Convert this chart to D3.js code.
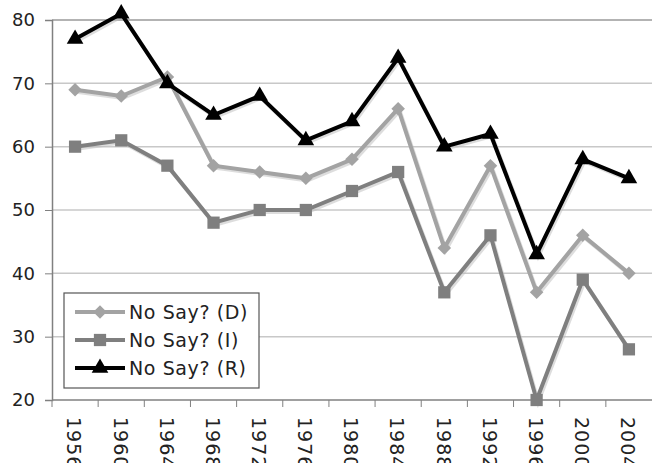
<!DOCTYPE html>
<html>
<head>
<meta charset="utf-8">
<script src="https://cdn.jsdelivr.net/npm/d3@7"></script>
<style>
  body { margin: 0; background: #fff; }
  svg text { font-family: "DejaVu Sans", Verdana, sans-serif; fill: #222; }
</style>
</head>
<body>
<svg id="chart" width="652" height="463"></svg>
<script>
// data
const years = ["1956","1960","1964","1968","1972","1976","1980","1984","1988","1992","1996","2000","2004"];
const noSayD = [69, 68, 71, 57, 56, 55, 58, 66, 44, 57, 37, 46, 40];
const noSayI = [60, 61, 57, 48, 50, 50, 53, 56, 37, 46, 20, 39, 28];
const noSayR = [77, 81, 70, 65, 68, 61, 64, 74, 60, 62, 43, 58, 55];
const yTicks = [20, 30, 40, 50, 60, 70, 80];

// excel-ish diamond (square turned 45 degrees)
const symbolDiamondWide = {
  draw(ctx, size) {
    const r = Math.sqrt(size / 2);
    ctx.moveTo(0, -r);
    ctx.lineTo(r, 0);
    ctx.lineTo(0, r);
    ctx.lineTo(-r, 0);
    ctx.closePath();
  }
};

const series = [
  { name: "No Say? (D)", values: noSayD, color: "#a3a3a3", marker: "diamond" },
  { name: "No Say? (I)", values: noSayI, color: "#7f7f7f", marker: "square" },
  { name: "No Say? (R)", values: noSayR, color: "#000000", marker: "triangle" }
];

const svg = d3.select("#chart");
const margin = {top: 20, right: 0, bottom: 63, left: 52},
    width = 652 - margin.left - margin.right,
    height = 463 - margin.top - margin.bottom;

const g = svg.append("g").attr("transform", `translate(${margin.left},${margin.top})`);

const x = d3.scaleBand().domain(years).range([0, width]);
const y = d3.scaleLinear().domain([20, 80]).range([height, 0]);

// gridlines
g.append("g")
  .selectAll("line")
  .data(yTicks.filter(t => t > 20))
  .join("line")
  .attr("x1", 0).attr("x2", width)
  .attr("y1", d => y(d)).attr("y2", d => y(d))
  .attr("stroke", d => d === 80 ? "#9a9a9a" : "#c8c8c8")
  .attr("stroke-width", 1.5);

// y axis
const yAxis = g.append("g")
  .call(d3.axisLeft(y).tickValues(yTicks).tickSize(7).tickPadding(10));
yAxis.select(".domain").attr("stroke", "#808080").attr("stroke-width", 1.5);
yAxis.selectAll(".tick line").attr("stroke", "#808080");
yAxis.selectAll("text").style("font-size", "18px").attr("fill", "#222");

// x axis: ticks at band boundaries
const xAxisG = g.append("g").attr("transform", `translate(0,${height})`);
xAxisG.append("line")
  .attr("x1", 0).attr("x2", width)
  .attr("stroke", "#808080").attr("stroke-width", 1.5);
xAxisG.selectAll(".bt")
  .data(years)
  .join("line")
  .attr("class", "bt")
  .attr("x1", d => x(d)).attr("x2", d => x(d))
  .attr("y1", 0).attr("y2", 7)
  .attr("stroke", "#808080");
xAxisG.selectAll(".xl")
  .data(years)
  .join("text")
  .attr("class", "xl")
  .attr("transform", d => `translate(${x(d) + x.bandwidth() / 2 - 1},17) rotate(90)`)
  .attr("dy", "0.35em")
  .attr("text-anchor", "start")
  .style("font-size", "19px")
  .style("letter-spacing", "1px")
  .text(d => d);

const cx = d => x(d) + x.bandwidth() / 2;
const line = d3.line().x((v, i) => cx(years[i])).y(v => y(v));

const sym = {
  diamond: d3.symbol().type(symbolDiamondWide).size(92),
  square: d3.symbol().type(d3.symbolSquare).size(150),
  triangle: d3.symbol().type(d3.symbolTriangle).size(120)
};

// faint shadow + lines + markers
series.forEach(s => {
  g.append("path")
    .datum(s.values)
    .attr("fill", "none")
    .attr("stroke", "#bbb")
    .attr("stroke-opacity", 0.5)
    .attr("stroke-width", 4)
    .attr("transform", "translate(1.5,2)")
    .attr("d", line);
  g.append("path")
    .datum(s.values)
    .attr("fill", "none")
    .attr("stroke", s.color)
    .attr("stroke-width", 4)
    .attr("stroke-linejoin", "miter")
    .attr("d", line);
  g.selectAll(null)
    .data(s.values)
    .join("path")
    .attr("transform", (v, i) => `translate(${cx(years[i])},${y(v)})`)
    .attr("d", sym[s.marker])
    .attr("fill", s.color);
});

// legend
const legend = svg.append("g").attr("transform", "translate(64,293)");
legend.append("rect")
  .attr("width", 195).attr("height", 95)
  .attr("fill", "#fff").attr("stroke", "#555").attr("stroke-width", 1.2);
series.forEach((s, i) => {
  const row = legend.append("g").attr("transform", `translate(0,${19 + i * 28})`);
  row.append("line")
    .attr("x1", 11).attr("x2", 61)
    .attr("stroke", s.color).attr("stroke-width", 4);
  row.append("path")
    .attr("transform", "translate(36,0)")
    .attr("d", sym[s.marker])
    .attr("fill", s.color);
  row.append("text")
    .attr("x", 65).attr("dy", "0.35em")
    .style("font-size", "19px")
    .style("letter-spacing", "0.6px")
    .text(s.name);
});
</script>
</body>
</html>
